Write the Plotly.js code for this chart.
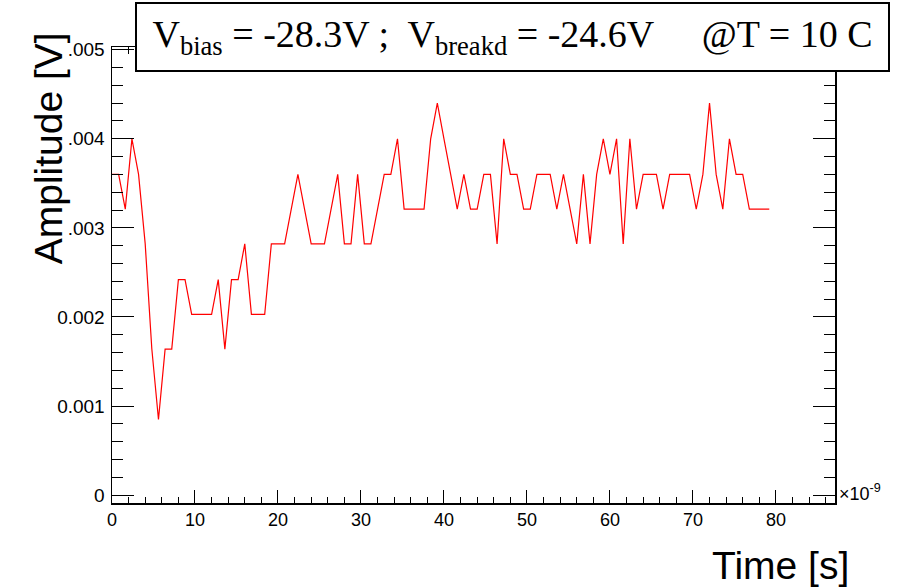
<!DOCTYPE html>
<html>
<head>
<meta charset="utf-8">
<script src="https://cdn.plot.ly/plotly-3.0.1.min.js"></script>
<style>
  html, body { margin: 0; padding: 0; background: #ffffff; }
  #plot { width: 902px; height: 587px; }
</style>
</head>
<body>
<div id="plot"></div>
<script>
// Sampled waveform: time in ns (axis is scaled x10^-9), amplitude in volts
const timeNs = [
  0.0, 0.8, 1.6, 2.4, 3.2, 4.0, 4.8, 5.6, 6.4, 7.2,
  8.0, 8.8, 9.6, 10.4, 11.2, 12.0, 12.8, 13.6, 14.4, 15.2,
  16.0, 16.8, 17.6, 18.4, 19.2, 20.0, 20.8, 21.6, 22.4, 23.2,
  24.0, 24.8, 25.6, 26.4, 27.2, 28.0, 28.8, 29.6, 30.4, 31.2,
  32.0, 32.8, 33.6, 34.4, 35.2, 36.0, 36.8, 37.6, 38.4, 39.2,
  40.0, 40.8, 41.6, 42.4, 43.2, 44.0, 44.8, 45.6, 46.4, 47.2,
  48.0, 48.8, 49.6, 50.4, 51.2, 52.0, 52.8, 53.6, 54.4, 55.2,
  56.0, 56.8, 57.6, 58.4, 59.2, 60.0, 60.8, 61.6, 62.4, 63.2,
  64.0, 64.8, 65.6, 66.4, 67.2, 68.0, 68.8, 69.6, 70.4, 71.2,
  72.0, 72.8, 73.6, 74.4, 75.2, 76.0, 76.8, 77.6, 78.4, 79.2
];

const amplitudeV = [
  0.0036, 0.0036, 0.00321, 0.0040, 0.0036, 0.00282, 0.00164, 0.00085, 0.00164, 0.00164,
  0.00242, 0.00242, 0.00203, 0.00203, 0.00203, 0.00203, 0.00242, 0.00164, 0.00242, 0.00242,
  0.00282, 0.00203, 0.00203, 0.00203, 0.00282, 0.00282, 0.00282, 0.00321, 0.0036, 0.00321,
  0.00282, 0.00282, 0.00282, 0.00321, 0.0036, 0.00282, 0.00282, 0.0036, 0.00282, 0.00282,
  0.00321, 0.0036, 0.0036, 0.0040, 0.00321, 0.00321, 0.00321, 0.00321, 0.0040, 0.0044,
  0.0040, 0.0036, 0.00321, 0.0036, 0.00321, 0.00321, 0.0036, 0.0036, 0.00282, 0.0040,
  0.0036, 0.0036, 0.00321, 0.00321, 0.0036, 0.0036, 0.0036, 0.00321, 0.0036, 0.00321,
  0.00282, 0.0036, 0.00282, 0.0036, 0.0040, 0.0036, 0.0040, 0.00282, 0.0040, 0.00321,
  0.0036, 0.0036, 0.0036, 0.00321, 0.0036, 0.0036, 0.0036, 0.0036, 0.00321, 0.0036,
  0.0044, 0.0036, 0.00321, 0.0040, 0.0036, 0.0036, 0.00321, 0.00321, 0.00321, 0.00321
];

const xTickVals = [0, 10, 20, 30, 40, 50, 60, 70, 80];
const xTickText = ['0', '10', '20', '30', '40', '50', '60', '70', '80'];
const yTickVals = [0, 0.001, 0.002, 0.003, 0.004, 0.005];
const yTickText = ['0', '0.001', '0.002', '.003', '.004', '.005'];

const titleText = 'V<sub>bias</sub> = -28.3V ;\u00a0 V<sub>breakd</sub> = -24.6V\u00a0\u00a0\u00a0\u00a0 @T = 10 C';

const sans = 'Liberation Sans, Arial, Helvetica, sans-serif';
const serif = 'Liberation Serif, Times New Roman, serif';

const trace = {
  x: timeNs,
  y: amplitudeV,
  type: 'scatter',
  mode: 'lines',
  line: { color: '#ff0000', width: 1.2 },
  hoverinfo: 'skip'
};

const axisCommon = {
  showline: true,
  linecolor: '#000000',
  linewidth: 1.5,
  mirror: 'allticks',
  ticks: 'inside',
  tickcolor: '#000000',
  tickwidth: 1,
  showgrid: false,
  zeroline: false,
  tickfont: { family: sans, size: 19, color: '#000000' },
  fixedrange: true
};

const layout = {
  width: 902,
  height: 587,
  margin: { l: 112, r: 67, t: 47, b: 84, pad: 0 },
  paper_bgcolor: '#ffffff',
  plot_bgcolor: '#ffffff',
  showlegend: false,
  xaxis: Object.assign({}, axisCommon, {
    range: [0, 87.12],
    tickmode: 'array',
    tickvals: xTickVals,
    ticktext: xTickText,
    ticklen: 13,
    tickfont: { family: sans, size: 18, color: '#000000' },
    minor: { ticks: 'inside', ticklen: 6.5, tickmode: 'linear', tick0: 0, dtick: 2, tickcolor: '#000000', tickwidth: 1, showgrid: false }
  }),
  yaxis: Object.assign({}, axisCommon, {
    range: [-0.0000875, 0.00503],
    tickmode: 'array',
    tickvals: yTickVals,
    ticktext: yTickText,
    ticklen: 22,
    ticklabelstandoff: 2,
    minor: { ticks: 'inside', ticklen: 11, tickmode: 'linear', tick0: 0, dtick: 0.0002, tickcolor: '#000000', tickwidth: 1, showgrid: false }
  }),
  annotations: [
    {
      text: titleText,
      xref: 'paper', yref: 'paper',
      x: 0.0318, y: 1.0987,
      xanchor: 'left', yanchor: 'top',
      showarrow: false,
      width: 751, height: 66,
      align: 'center', valign: 'middle',
      bgcolor: '#ffffff',
      bordercolor: '#000000',
      borderwidth: 2,
      borderpad: 0,
      font: { family: serif, size: 38, color: '#000000' }
    },
    {
      text: 'Amplitude [V]',
      xref: 'paper', yref: 'paper',
      x: -0.0875, y: 0.7774,
      xanchor: 'center', yanchor: 'middle',
      textangle: -90,
      showarrow: false,
      font: { family: sans, size: 39, color: '#000000' }
    },
    {
      text: 'Time [s]',
      xref: 'paper', yref: 'paper',
      x: 0.925, y: -0.136,
      xanchor: 'center', yanchor: 'middle',
      showarrow: false,
      font: { family: sans, size: 39, color: '#000000' }
    },
    {
      text: '\u00d710<sup>-9</sup>',
      xref: 'paper', yref: 'paper',
      x: 1.0028, y: 0.022,
      xanchor: 'left', yanchor: 'middle',
      showarrow: false,
      font: { family: sans, size: 18, color: '#000000' }
    }
  ]
};

Plotly.newPlot('plot', [trace], layout, { staticPlot: true, displayModeBar: false });
</script>
</body>
</html>
